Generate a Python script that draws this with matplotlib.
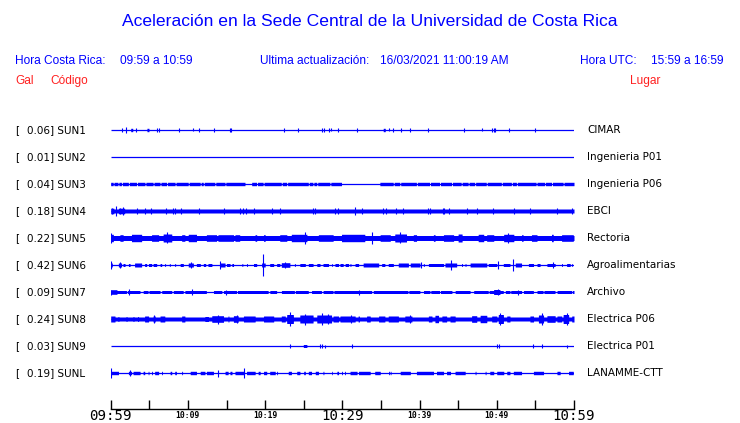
import matplotlib.pyplot as plt
import numpy as np

# estaciones, de arriba hacia abajo
codes = ["SUN1", "SUN2", "SUN3", "SUN4", "SUN5", "SUN6", "SUN7", "SUN8", "SUN9", "SUNL"]
gal = [0.06, 0.01, 0.04, 0.18, 0.22, 0.42, 0.09, 0.24, 0.03, 0.19]
places = ["CIMAR", "Ingenieria P01", "Ingenieria P06", "EBCI", "Rectoria",
          "Agroalimentarias", "Archivo", "Electrica P06", "Electrica P01", "LANAMME-CTT"]

# half-height of the continuous band (px), 0 = only the line
base_amp = [0, 0, 1.7, 2.0, 2.5, 0, 1.5, 2.0, 0, 0]

# minutes after 09:59 -> (start, end, half-height) / (time, half-height)
sun1_blocks = [(2.6, 2.85, 1.7), (4.7, 4.95, 1.7), (35.3, 35.55, 1.7)]
sun1_spikes = [(1.5, 2), (2.0, 3), (3.3, 2), (6.0, 2), (6.3, 2), (8.8, 2), (10.7, 1.5),
               (11.4, 2), (13.4, 2), (15.4, 2), (15.6, 2), (22.4, 2), (24.3, 2), (27.4, 2),
               (27.6, 2), (28.3, 2), (28.5, 1.5), (29.5, 2), (31.9, 2), (36.0, 1.5),
               (36.5, 2), (37.6, 2), (38.7, 2), (41.1, 2), (45.7, 2), (48.1, 1.5),
               (49.4, 2), (49.6, 2), (49.8, 2), (51.6, 2), (54.9, 2)]

sun2_blocks = []
sun2_spikes = []

sun3_gaps = [(0.33, 0.43), (0.95, 1.05), (1.4, 1.5), (2.3, 2.4), (3.35, 3.45), (4.45, 4.55),
             (5.5, 5.6), (6.4, 6.5), (7.25, 7.35), (8.35, 8.45), (10.05, 10.15), (11.6, 11.7),
             (12.0, 12.1), (13.5, 13.6), (14.8, 14.9), (17.4, 18.25), (18.9, 19.0),
             (19.75, 19.85), (22.1, 22.2), (22.8, 22.9), (25.6, 25.7), (26.2, 26.3),
             (26.7, 26.8), (28.4, 28.5), (29.9, 34.85), (36.6, 36.7), (37.45, 37.55),
             (39.6, 39.7), (41.3, 41.4), (42.6, 42.7), (44.15, 44.25), (45.4, 45.5),
             (46.3, 46.4), (47.15, 47.25), (48.65, 48.75), (50.6, 50.7), (51.9, 52.0),
             (52.55, 52.65), (55.1, 55.2), (56.2, 56.3), (57.1, 57.2), (58.6, 58.7)]
sun3_blocks = []
sun3_spikes = []

sun4_blocks = [(0.0, 0.4, 2.8), (1.0, 1.8, 2.8)]
sun4_spikes = [(0.13, 3), (0.73, 5), (1.2, 3), (1.6, 4), (3.4, 2.8), (4.5, 2.8), (5.2, 2.8),
               (7.1, 2.8), (8.1, 3.2), (8.3, 3), (9.1, 3.2), (11.4, 2.8), (14.7, 3.2), (16.8, 3),
               (17.1, 2.8), (17.5, 3), (18.5, 2.8), (20.9, 2.8), (21.9, 2.8), (26.2, 2.8),
               (26.5, 2.8), (29.1, 2.8), (29.5, 2.8), (31.6, 4), (32.6, 2.8), (35.2, 2.8),
               (35.6, 2.8), (36.9, 3.2), (37.8, 2.8), (41.1, 3.3), (41.4, 2.8), (43.0, 2.8),
               (43.2, 2.8), (43.8, 2.8), (46.2, 3.3), (47.5, 2.8), (49.5, 2.8), (52.2, 2.8),
               (54.3, 2.8), (57.8, 3.3), (59.7, 2.8)]

sun5_blocks = [(0.0, 0.34, 3.7), (1.2, 1.6, 3.3), (2.7, 4.0, 3.7), (5.3, 6.2, 3.3), (6.8, 7.9, 4),
               (9.2, 9.6, 3.3), (10.05, 11.1, 3.7), (12.4, 13.7, 3.3), (13.9, 15.9, 3.3),
               (16.1, 16.7, 3.3), (18.7, 18.9, 3.3), (19.8, 20.0, 3.3), (21.9, 22.8, 3.3),
               (23.4, 25.4, 3.7), (26.9, 28.8, 3.3), (29.9, 32.9, 3.7), (34.9, 36.2, 3.3),
               (36.8, 38.3, 4), (39.2, 39.6, 3.3), (41.8, 42.0, 3.3), (43.1, 44.4, 3.3),
               (45.0, 45.5, 4), (47.6, 48.3, 3.7), (48.7, 49.6, 3.3), (50.9, 52.2, 3.7),
               (53.2, 53.4, 3.3), (54.5, 55.2, 3.3), (57.1, 57.3, 3.7), (58.4, 59.9, 3.3)]
sun5_spikes = [(0.1, 5), (7.3, 5.5), (25.2, 6), (33.8, 6), (37.5, 5.5), (51.5, 5)]

sun6_blocks = [(0.0, 0.2, 2), (1.0, 1.4, 2), (1.6, 1.85, 1.5), (2.3, 2.5, 1.5), (3.1, 4.0, 2),
               (4.4, 4.65, 1.5), (4.9, 5.3, 1.5), (5.5, 5.95, 1.5), (6.4, 6.6, 1.5),
               (7.0, 7.1, 1.5), (7.6, 7.7, 1.5), (8.3, 8.4, 1.5), (9.0, 9.4, 1.5),
               (10.05, 10.7, 2), (11.1, 11.6, 1.5), (12.0, 12.3, 1.5), (12.6, 13.1, 1.5),
               (14.1, 14.8, 2), (15.0, 15.45, 1.5), (15.7, 15.9, 1.5), (17.0, 17.1, 1.5),
               (17.6, 17.7, 1.5), (18.5, 18.9, 1.5), (19.55, 20.0, 2), (20.6, 21.1, 1.5),
               (21.5, 21.9, 1.5), (22.1, 23.2, 2.3), (23.8, 23.9, 1.5), (24.5, 25.2, 1.5),
               (25.6, 26.2, 1.5), (26.7, 27.1, 1.5), (27.5, 28.2, 1.5), (28.6, 28.7, 1.5),
               (29.05, 29.5, 1.5), (29.7, 30.1, 1.5), (30.35, 30.8, 1.5), (31.0, 31.1, 1.5),
               (31.65, 32.1, 1.5), (32.7, 34.7, 2), (35.1, 35.5, 1.5), (35.95, 36.6, 1.5),
               (37.25, 38.55, 2), (38.8, 40.05, 2), (40.5, 40.6, 1.5), (41.15, 43.1, 1.5),
               (43.3, 44.8, 2), (45.45, 45.55, 1.5), (45.9, 46.0, 1.5), (46.55, 48.7, 2),
               (48.9, 50.0, 1.5), (50.85, 51.7, 1.5), (52.4, 53.2, 2), (54.1, 54.75, 1.5),
               (55.2, 55.6, 1.5), (56.5, 57.55, 1.5), (58.4, 58.5, 1.5), (59.05, 59.5, 1.5),
               (59.7, 59.8, 1.5)]
sun6_spikes = [(0.0, 4), (1.2, 3), (10.35, 3), (14.1, 4), (19.77, 11), (22.6, 3), (40.15, 3),
               (44.08, 5), (50.2, 4), (52.15, 6), (57.3, 3)]

sun7_gaps = [(2.05, 2.15), (3.8, 4.2), (4.85, 4.95), (6.4, 6.6), (7.9, 8.1), (9.4, 9.6),
             (12.4, 13.3), (14.4, 14.6), (16.3, 16.4), (20.4, 20.6), (21.5, 22.1), (23.8, 23.9),
             (25.6, 26.0), (27.3, 27.5), (28.8, 28.9), (33.8, 34.0), (38.5, 38.6), (40.05, 40.5),
             (41.35, 41.45), (42.6, 42.7), (44.2, 44.6), (46.55, 47.0), (48.9, 49.0),
             (50.85, 51.1), (51.7, 51.8), (53.2, 53.45), (54.75, 55.2), (56.0, 56.1),
             (57.55, 57.8), (59.7, 59.8)]
sun7_blocks = [(0.0, 0.8, 2.3), (49.6, 50.4, 2.5)]
sun7_spikes = [(0.1, 2.5), (2.4, 3), (10.5, 3), (14.9, 2.5), (32.2, 2.5), (50.1, 3), (52.8, 2.5)]

sun8_blocks = [(0.0, 0.55, 3), (0.95, 1.05, 2.5), (2.0, 2.1, 2.5), (2.9, 3.0, 2.5), (3.5, 3.6, 2.5),
               (4.4, 4.9, 3), (5.5, 5.75, 3), (6.4, 7.0, 3), (9.2, 9.6, 3), (12.2, 12.65, 2.5),
               (13.1, 14.6, 3.3), (15.2, 15.3, 3), (15.9, 16.5, 3.3), (17.2, 18.7, 3),
               (19.8, 21.1, 3), (22.1, 22.6, 3), (22.8, 23.65, 4.5), (24.5, 26.2, 4),
               (26.7, 28.6, 4), (28.8, 29.5, 3), (29.7, 31.65, 3), (32.05, 32.2, 3),
               (33.15, 33.6, 3), (34.7, 35.5, 3), (35.95, 37.25, 3), (38.1, 39.0, 3),
               (41.15, 41.6, 3), (42.0, 42.45, 3.7), (42.9, 43.5, 3), (43.95, 44.6, 3),
               (46.75, 47.4, 3.3), (47.85, 48.7, 3.7), (49.35, 50.0, 3), (50.2, 50.85, 4.5),
               (51.3, 51.7, 3), (54.3, 54.75, 3), (55.4, 56.05, 4), (56.5, 57.55, 3.3),
               (57.8, 58.4, 3), (58.6, 59.3, 4.5), (59.7, 60.0, 3)]
sun8_spikes = [(5.6, 4), (13.9, 4.5), (16.3, 4), (23.2, 7), (25.2, 5.5), (27.3, 6), (28.2, 5),
               (31.1, 4), (38.8, 4), (50.4, 6), (55.8, 6), (59.05, 6)]

sun9_blocks = [(24.95, 25.4, 1.5)]
sun9_spikes = [(23.2, 2), (27.1, 2), (27.3, 2), (27.8, 1.5), (31.2, 2), (50.0, 2), (50.3, 2),
               (54.75, 2), (55.8, 2), (59.15, 1.5)]

sunl_blocks = [(0.1, 1.0, 1.7), (2.3, 2.7, 1.7), (2.9, 3.8, 1.7), (4.2, 4.4, 1.7), (4.85, 4.95, 1.7),
               (5.3, 5.4, 1.7), (5.7, 6.2, 1.7), (6.6, 6.7, 1.7), (7.7, 7.9, 1.7), (8.3, 8.5, 1.7),
               (9.2, 9.3, 1.7), (10.3, 11.1, 1.7), (11.6, 12.2, 1.7), (12.4, 13.3, 1.7),
               (14.8, 15.2, 1.7), (15.45, 15.7, 1.7), (16.1, 17.2, 1.7), (17.6, 18.7, 1.7),
               (19.1, 19.35, 1.7), (19.8, 20.2, 1.7), (20.6, 21.3, 1.7), (21.5, 21.6, 1.7),
               (23.0, 23.4, 1.7), (24.1, 24.5, 1.7), (25.0, 25.2, 1.7), (25.6, 26.0, 1.7),
               (26.5, 26.9, 1.7), (27.5, 27.6, 1.7), (28.6, 28.7, 1.7), (29.3, 29.5, 1.7),
               (29.9, 30.0, 1.7), (30.3, 30.4, 1.7), (31.0, 31.9, 1.7), (32.1, 33.6, 1.7),
               (34.2, 34.9, 1.7), (36.0, 36.1, 1.7), (36.2, 36.3, 1.7), (37.5, 38.8, 1.7),
               (39.6, 41.8, 1.7), (42.2, 43.1, 1.7), (43.5, 44.0, 1.7), (44.6, 45.9, 1.7),
               (47.2, 47.3, 1.7), (48.5, 48.6, 1.7), (49.1, 49.6, 1.7), (50.0, 50.9, 1.7),
               (51.3, 51.7, 1.7), (52.15, 53.2, 1.7), (54.75, 56.05, 1.7), (57.8, 58.2, 1.7),
               (59.3, 59.9, 1.7)]
sunl_spikes = [(0.0, 5), (2.5, 3), (13.9, 3.5), (17.3, 5)]

all_blocks = [sun1_blocks, sun2_blocks, sun3_blocks, sun4_blocks, sun5_blocks,
              sun6_blocks, sun7_blocks, sun8_blocks, sun9_blocks, sunl_blocks]
all_spikes = [sun1_spikes, sun2_spikes, sun3_spikes, sun4_spikes, sun5_spikes,
              sun6_spikes, sun7_spikes, sun8_spikes, sun9_spikes, sunl_spikes]
all_gaps = [[], [], sun3_gaps, [], [], [], sun7_gaps, [], [], []]

tick_minutes = list(range(0, 61, 5))
tick_labels = ["09:59", "", "10:09", "", "10:19", "", "10:29", "", "10:39", "", "10:49", "", "10:59"]
big_labels = ["09:59", "10:29", "10:59"]

W, H = 740, 423
BLUE = "#0000ff"
RED = "#ff2020"
px = 1.0 / 27  # one pixel in row units

fig = plt.figure(figsize=(W / 100, H / 100), dpi=100)
fig.patch.set_facecolor("white")


def fx(x):
    return x / W


def fy(y):
    return 1 - y / H


x0, x1 = 110.7, 574.0
ax = fig.add_axes([fx(x0), fy(386.5), (x1 - x0) / W, 270 / H])
ax.set_xlim(0, 60)
ax.set_ylim(9.5, -0.5)
ax.axis("off")

t = np.linspace(0, 60, 3601)
for i in range(len(codes)):
    env = np.full_like(t, base_amp[i])
    for a, b in all_gaps[i]:
        env[(t >= a) & (t <= b)] = 0
    for a, b, amp in all_blocks[i]:
        m = (t >= a) & (t <= b)
        env[m] = np.maximum(env[m], amp)
    ax.fill_between(t, i - env * px, i + env * px, color=BLUE, lw=0)
    ax.plot([0, 60], [i, i], color=BLUE, lw=0.9, solid_capstyle="butt")
    if all_spikes[i]:
        st = [s[0] for s in all_spikes[i]]
        sa = np.array([s[1] for s in all_spikes[i]])
        ax.vlines(st, i - sa * px, i + sa * px, color=BLUE, lw=0.8)

# time axis
tax = fig.add_axes([fx(x0), fy(409.3), (x1 - x0) / W, 0.03])
tax.set_xlim(0, 60)
for s in ["top", "left", "right"]:
    tax.spines[s].set_visible(False)
tax.spines["bottom"].set_linewidth(1.0)
tax.set_yticks([])
tax.patch.set_alpha(0)
tax.set_xticks(tick_minutes)
tax.set_xticklabels(tick_labels, family="DejaVu Sans Mono")
tax.tick_params(axis="x", direction="in", length=6.5, width=1.0, pad=4.8)
for lab in tax.get_xticklabels():
    lab.set_va("center")
    if lab.get_text() in big_labels:
        lab.set_fontsize(10.2)
    else:
        lab.set_fontsize(5.8)
        lab.set_fontweight("bold")

# titles and header
fig.text(fx(370), fy(22), "Aceleración en la Sede Central de la Universidad de Costa Rica",
         color=BLUE, fontsize=12.6, family="Liberation Sans", ha="center", va="center")
hdr = dict(color=BLUE, fontsize=8.6, family="Liberation Sans", va="center")
fig.text(fx(15), fy(60.5), "Hora Costa Rica:", **hdr)
fig.text(fx(120), fy(60.5), "09:59 a 10:59", **hdr)
fig.text(fx(260), fy(60.5), "Ultima actualización:", **hdr)
fig.text(fx(380), fy(60.5), "16/03/2021 11:00:19 AM", **hdr)
fig.text(fx(580.5), fy(60.5), "Hora UTC:", **hdr)
fig.text(fx(651), fy(60.5), "15:59 a 16:59", **hdr)
red = dict(color=RED, fontsize=8.6, family="Liberation Sans", va="center")
fig.text(fx(15), fy(81), "Gal", **red)
fig.text(fx(50), fy(81), "Código", **red)
fig.text(fx(630), fy(81), "Lugar", **red)

for i in range(len(codes)):
    yy = 130 + 27 * i
    fig.text(fx(15), fy(yy), "[", fontsize=7.5, va="center", color="black")
    fig.text(fx(27), fy(yy), f"{gal[i]:.2f}] {codes[i]}", fontsize=7.5, va="center", color="black")
    fig.text(fx(587), fy(yy), places[i], fontsize=7.5, va="center", color="black")

fig.savefig("out.png", dpi=100)
